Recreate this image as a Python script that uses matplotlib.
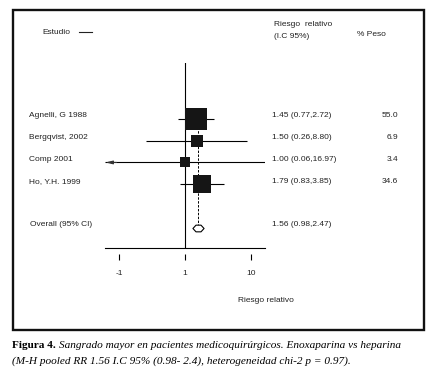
import numpy as np
import matplotlib
matplotlib.use("Agg")
import matplotlib.pyplot as plt
import matplotlib.transforms as mtransforms
from matplotlib.patches import Rectangle
from matplotlib.path import Path

# data
studies = ["Agnelli, G 1988", "Bergqvist, 2002", "Comp 2001", "Ho, Y.H. 1999"]
rr = [1.45, 1.50, 1.00, 1.79]
ci_low = [0.77, 0.26, 0.06, 0.83]
ci_high = [2.72, 8.80, 16.97, 3.85]
weights = [55.0, 6.9, 3.4, 34.6]
overall_label = "Overall (95% CI)"
overall_rr = 1.56
overall_ci = (0.98, 2.47)
tick_vals = [0.1, 1, 10]
tick_labels = ["-1", "1", "10"]

plt.rcParams['font.family'] = ['Liberation Sans', 'DejaVu Sans']
fs = 6
tcol = '#222222'

fig = plt.figure(figsize=(4.31, 3.75), dpi=100)

# background axes in pixel units for frame, headers and caption
bg = fig.add_axes([0, 0, 1, 1])
bg.set_xlim(0, 431)
bg.set_ylim(375, 0)
bg.axis('off')
bg.add_patch(Rectangle((13, 10), 411, 320, fill=False, lw=1.7, ec='#111111'))

bg.text(42, 32, "Estudio", fontsize=fs, color=tcol, va='center')
bg.plot([79, 92], [32, 32], color=tcol, lw=0.8)
bg.text(274, 25, "Riesgo  relativo", fontsize=fs, color=tcol, va='center')
bg.text(274, 37, "(I.C 95%)", fontsize=fs, color=tcol, va='center')
bg.text(357, 34, "% Peso", fontsize=fs, color=tcol, va='center')
bg.text(238, 300, "Riesgo relativo", fontsize=fs, color=tcol, va='center')

# forest plot axes
ax = fig.add_axes([105 / 431, (375 - 248) / 375, 160 / 431, 185 / 375])
ax.set_xscale('log')
xmin, xmax = 10 ** (-80 / 66), 10 ** (80 / 66)
ax.set_xlim(xmin, xmax)
ax.set_ylim(5.94, -2.58)
ax.patch.set_alpha(0)
for s in ['top', 'left', 'right']:
    ax.spines[s].set_visible(False)
ax.spines['bottom'].set_linewidth(0.8)
ax.set_xticks([])
ax.set_xticks([], minor=True)
ax.set_yticks([])

ax.axvline(1, color='k', lw=0.8)

rows = np.arange(len(studies))
overall_row = len(studies) + 1

# pooled estimate dashed line
ax.plot([overall_rr, overall_rr], [rows[0], overall_row], color='k', lw=0.7,
        ls=(0, (2.5, 1.5)))

for i, y in enumerate(rows):
    lo = max(ci_low[i], xmin)
    hi = min(ci_high[i], xmax)
    ax.plot([lo, hi], [y, y], color='k', lw=0.8, solid_capstyle='butt')
    if ci_low[i] < xmin:
        ax.annotate('', xy=(xmin * 1.02, y), xytext=(xmin * 1.5, y),
                    arrowprops=dict(arrowstyle='-|>,head_length=0.4,head_width=0.1',
                                    color='#333333', lw=0.8, shrinkA=0, shrinkB=0))
    size_px = 5.5 + 2.25 * np.sqrt(weights[i])
    ax.plot(rr[i], y, marker='s', ms=size_px * 0.72, color='#151515', mew=0)

# overall hexagon-like diamond
verts = [(-1, 0), (-0.45, 0.6), (0.45, 0.6), (1, 0), (0.45, -0.6), (-0.45, -0.6), (-1, 0)]
diamond = Path(verts, [Path.MOVETO] + [Path.LINETO] * 5 + [Path.CLOSEPOLY])
ax.plot(overall_rr, overall_row, marker=diamond, ms=8, mfc='white', mec='k', mew=0.8)

# row labels
tr = mtransforms.blended_transform_factory(bg.transData, ax.transData)
for i, y in enumerate(rows):
    ax.text(29, y - 0.14, studies[i], transform=tr, fontsize=fs, color=tcol, va='center')
    ax.text(272, y - 0.14, f"{rr[i]:.2f} ({ci_low[i]:.2f},{ci_high[i]:.2f})",
            transform=tr, fontsize=fs, color=tcol, va='center')
    ax.text(398, y - 0.14, f"{weights[i]:.1f}", transform=tr, fontsize=fs,
            color=tcol, va='center', ha='right')
ax.text(30, overall_row - 0.14, overall_label, transform=tr, fontsize=fs, color=tcol, va='center')
ax.text(272, overall_row - 0.14, f"{overall_rr:.2f} ({overall_ci[0]:.2f},{overall_ci[1]:.2f})",
        transform=tr, fontsize=fs, color=tcol, va='center')

# detached tick marks and labels
trx = mtransforms.blended_transform_factory(ax.transData, ax.transAxes)
ax.plot(tick_vals, [-0.046] * len(tick_vals), ls='none', marker='|', ms=5, mew=0.8,
        color='k', transform=trx, clip_on=False)
for v, lab in zip(tick_vals, tick_labels):
    ax.text(v, -0.14, lab, transform=trx, fontsize=fs, color=tcol, ha='center', va='center')

# caption
cap_font = ['Liberation Serif', 'DejaVu Serif']
t1 = bg.text(12, 346, "Figura 4.", family=cap_font, fontsize=8.1, fontweight='bold', va='center')
fig.canvas.draw()
bb = t1.get_window_extent(renderer=fig.canvas.get_renderer())
x_after = bg.transData.inverted().transform((bb.x1, bb.y0))[0]
bg.text(x_after + 3, 346, "Sangrado mayor en pacientes medicoquirúrgicos. Enoxaparina vs heparina",
        family=cap_font, fontsize=8.1, style='italic', va='center')
bg.text(12, 361, "(M-H pooled RR 1.56 I.C 95% (0.98- 2.4), heterogeneidad chi-2 p = 0.97).",
        family=cap_font, fontsize=8.1, style='italic', va='center')

fig.savefig("out.png", dpi=100)
